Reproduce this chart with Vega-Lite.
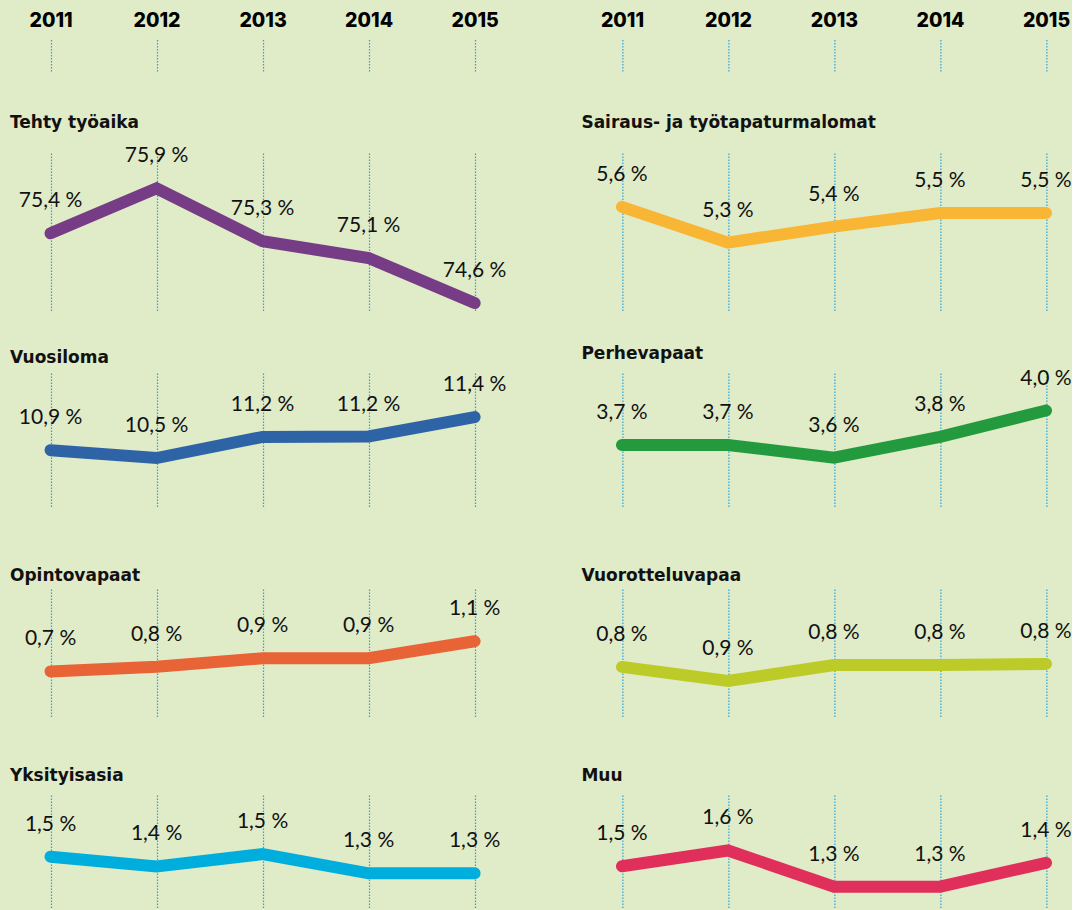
{
  "$schema": "https://vega.github.io/schema/vega-lite/v6.json",
  "background": "#e0ebc8",
  "padding": {"left": 10, "top": 10, "right": 0, "bottom": 0},
  "autosize": {"type": "pad"},
  "config": {
    "view": {"stroke": null},
    "font": "Lato",
    "axis": {"tickColor": "#29a3dd", "tickDash": [1.5, 1.5], "tickWidth": 1.2, "tickOpacity": 1, "domain": false, "grid": false, "title": null},
    "title": {"anchor": "start", "font": "DejaVu Sans", "fontSize": 17, "fontWeight": "bold", "color": "#111111", "frame": "group"},
    "text": {"font": "Lato", "fontSize": 21, "color": "#111111"}
  },
  "data": {
    "values": [
      {"cat": "Tehty työaika", "year": "2011", "value": 75.39, "label": "75,4 %"},
      {"cat": "Tehty työaika", "year": "2012", "value": 75.90, "label": "75,9 %"},
      {"cat": "Tehty työaika", "year": "2013", "value": 75.30, "label": "75,3 %"},
      {"cat": "Tehty työaika", "year": "2014", "value": 75.11, "label": "75,1 %"},
      {"cat": "Tehty työaika", "year": "2015", "value": 74.60, "label": "74,6 %"},
      {"cat": "Sairaus- ja työtapaturmalomat", "year": "2011", "value": 5.57, "label": "5,6 %"},
      {"cat": "Sairaus- ja työtapaturmalomat", "year": "2012", "value": 5.28, "label": "5,3 %"},
      {"cat": "Sairaus- ja työtapaturmalomat", "year": "2013", "value": 5.41, "label": "5,4 %"},
      {"cat": "Sairaus- ja työtapaturmalomat", "year": "2014", "value": 5.52, "label": "5,5 %"},
      {"cat": "Sairaus- ja työtapaturmalomat", "year": "2015", "value": 5.52, "label": "5,5 %"},
      {"cat": "Vuosiloma", "year": "2011", "value": 10.79, "label": "10,9 %"},
      {"cat": "Vuosiloma", "year": "2012", "value": 10.60, "label": "10,5 %"},
      {"cat": "Vuosiloma", "year": "2013", "value": 11.11, "label": "11,2 %"},
      {"cat": "Vuosiloma", "year": "2014", "value": 11.12, "label": "11,2 %"},
      {"cat": "Vuosiloma", "year": "2015", "value": 11.59, "label": "11,4 %"},
      {"cat": "Perhevapaat", "year": "2011", "value": 3.71, "label": "3,7 %"},
      {"cat": "Perhevapaat", "year": "2012", "value": 3.71, "label": "3,7 %"},
      {"cat": "Perhevapaat", "year": "2013", "value": 3.60, "label": "3,6 %"},
      {"cat": "Perhevapaat", "year": "2014", "value": 3.78, "label": "3,8 %"},
      {"cat": "Perhevapaat", "year": "2015", "value": 4.01, "label": "4,0 %"},
      {"cat": "Opintovapaat", "year": "2011", "value": 0.72, "label": "0,7 %"},
      {"cat": "Opintovapaat", "year": "2012", "value": 0.78, "label": "0,8 %"},
      {"cat": "Opintovapaat", "year": "2013", "value": 0.89, "label": "0,9 %"},
      {"cat": "Opintovapaat", "year": "2014", "value": 0.89, "label": "0,9 %"},
      {"cat": "Opintovapaat", "year": "2015", "value": 1.11, "label": "1,1 %"},
      {"cat": "Vuorotteluvapaa", "year": "2011", "value": 0.825, "label": "0,8 %"},
      {"cat": "Vuorotteluvapaa", "year": "2012", "value": 0.778, "label": "0,9 %"},
      {"cat": "Vuorotteluvapaa", "year": "2013", "value": 0.831, "label": "0,8 %"},
      {"cat": "Vuorotteluvapaa", "year": "2014", "value": 0.831, "label": "0,8 %"},
      {"cat": "Vuorotteluvapaa", "year": "2015", "value": 0.835, "label": "0,8 %"},
      {"cat": "Yksityisasia", "year": "2011", "value": 1.49, "label": "1,5 %"},
      {"cat": "Yksityisasia", "year": "2012", "value": 1.38, "label": "1,4 %"},
      {"cat": "Yksityisasia", "year": "2013", "value": 1.52, "label": "1,5 %"},
      {"cat": "Yksityisasia", "year": "2014", "value": 1.30, "label": "1,3 %"},
      {"cat": "Yksityisasia", "year": "2015", "value": 1.30, "label": "1,3 %"},
      {"cat": "Muu", "year": "2011", "value": 1.46, "label": "1,5 %"},
      {"cat": "Muu", "year": "2012", "value": 1.60, "label": "1,6 %"},
      {"cat": "Muu", "year": "2013", "value": 1.28, "label": "1,3 %"},
      {"cat": "Muu", "year": "2014", "value": 1.28, "label": "1,3 %"},
      {"cat": "Muu", "year": "2015", "value": 1.49, "label": "1,4 %"}
    ]
  },
  "bounds": "flush",
  "columns": 2,
  "spacing": {"row": 0, "column": 81.4},
  "concat": [
    {
      "width": 490, "height": 82,
      "transform": [{"filter": {"field": "cat", "equal": "Tehty työaika"}}],
      "mark": {"type": "point", "opacity": 0},
      "encoding": {
        "x": {"field": "year", "type": "ordinal", "scale": {"type": "point", "padding": 0.311, "align": 0.615},
              "axis": {"orient": "top", "labelAngle": 0, "labelFont": "Inter", "labelFontSize": 19.5, "labelFontWeight": 800, "labelColor": "#000000", "ticks": true, "tickSize": 33, "labelPadding": 8}}
      }
    },
    {
      "width": 490, "height": 82,
      "transform": [{"filter": {"field": "cat", "equal": "Muu"}}],
      "mark": {"type": "point", "opacity": 0},
      "encoding": {
        "x": {"field": "year", "type": "ordinal", "scale": {"type": "point", "padding": 0.311, "align": 0.615},
              "axis": {"orient": "top", "labelAngle": 0, "labelFont": "Inter", "labelFontSize": 19.5, "labelFontWeight": 800, "labelColor": "#000000", "ticks": true, "tickSize": 33, "labelPadding": 8}}
      }
    },
    {
      "width": 490, "height": 220,
      "title": {"text": "Tehty työaika", "offset": 13},
      "transform": [{"filter": {"field": "cat", "equal": "Tehty työaika"}}],
      "encoding": {
        "x": {"field": "year", "type": "ordinal", "scale": {"type": "point", "padding": 0.311, "align": 0.615}, "axis": {"orient": "top", "labels": false, "ticks": true, "tickSize": -158}},
        "y": {"field": "value", "type": "quantitative", "scale": {"domain": [73.808, 76.30], "zero": false, "nice": false}, "axis": null}
      },
      "layer": [
        {"mark": {"type": "line", "color": "#763c86", "strokeWidth": 12, "strokeCap": "round"}},
        {"mark": {"type": "text", "dy": -32}, "encoding": {"text": {"field": "label"}}}
      ]
    },
    {
      "width": 490, "height": 220,
      "title": {"text": "Sairaus- ja työtapaturmalomat", "offset": 20},
      "transform": [{"filter": {"field": "cat", "equal": "Sairaus- ja työtapaturmalomat"}}],
      "encoding": {
        "x": {"field": "year", "type": "ordinal", "scale": {"type": "point", "padding": 0.311, "align": 0.615}, "axis": {"orient": "top", "labels": false, "ticks": true, "tickSize": -158}},
        "y": {"field": "value", "type": "quantitative", "scale": {"domain": [4.2237, 6.006], "zero": false, "nice": false}, "axis": null}
      },
      "layer": [
        {"mark": {"type": "line", "color": "#f9b534", "strokeWidth": 12, "strokeCap": "round"}},
        {"mark": {"type": "text", "dy": -32}, "encoding": {"text": {"field": "label"}}}
      ]
    },
    {
      "width": 490, "height": 216,
      "title": {"text": "Vuosiloma", "offset": 5},
      "transform": [{"filter": {"field": "cat", "equal": "Vuosiloma"}}],
      "encoding": {
        "x": {"field": "year", "type": "ordinal", "scale": {"type": "point", "padding": 0.311, "align": 0.615}, "axis": {"orient": "top", "labels": false, "ticks": true, "tickSize": -135}},
        "y": {"field": "value", "type": "quantitative", "scale": {"domain": [7.4364, 12.654], "zero": false, "nice": false}, "axis": null}
      },
      "layer": [
        {"mark": {"type": "line", "color": "#2e64a6", "strokeWidth": 12, "strokeCap": "round"}},
        {"mark": {"type": "text", "dy": -32}, "encoding": {"text": {"field": "label"}}}
      ]
    },
    {
      "width": 490, "height": 216,
      "title": {"text": "Perhevapaat", "offset": 5},
      "transform": [{"filter": {"field": "cat", "equal": "Perhevapaat"}}],
      "encoding": {
        "x": {"field": "year", "type": "ordinal", "scale": {"type": "point", "padding": 0.311, "align": 0.615}, "axis": {"orient": "top", "labels": false, "ticks": true, "tickSize": -135}},
        "y": {"field": "value", "type": "quantitative", "scale": {"domain": [2.4554, 4.337], "zero": false, "nice": false}, "axis": null}
      },
      "layer": [
        {"mark": {"type": "line", "color": "#249a3e", "strokeWidth": 12, "strokeCap": "round"}},
        {"mark": {"type": "text", "dy": -32}, "encoding": {"text": {"field": "label"}}}
      ]
    },
    {
      "width": 490, "height": 206,
      "title": {"text": "Opintovapaat", "offset": 3},
      "transform": [{"filter": {"field": "cat", "equal": "Opintovapaat"}}],
      "encoding": {
        "x": {"field": "year", "type": "ordinal", "scale": {"type": "point", "padding": 0.311, "align": 0.615}, "axis": {"orient": "top", "labels": false, "ticks": true, "tickSize": -129}},
        "y": {"field": "value", "type": "quantitative", "scale": {"domain": [-0.8792, 1.786], "zero": false, "nice": false}, "axis": null}
      },
      "layer": [
        {"mark": {"type": "line", "color": "#e86335", "strokeWidth": 12, "strokeCap": "round"}},
        {"mark": {"type": "text", "dy": -32}, "encoding": {"text": {"field": "label"}}}
      ]
    },
    {
      "width": 490, "height": 206,
      "title": {"text": "Vuorotteluvapaa", "offset": 3},
      "transform": [{"filter": {"field": "cat", "equal": "Vuorotteluvapaa"}}],
      "encoding": {
        "x": {"field": "year", "type": "ordinal", "scale": {"type": "point", "padding": 0.311, "align": 0.615}, "axis": {"orient": "top", "labels": false, "ticks": true, "tickSize": -129}},
        "y": {"field": "value", "type": "quantitative", "scale": {"domain": [0.39803, 1.0847], "zero": false, "nice": false}, "axis": null}
      },
      "layer": [
        {"mark": {"type": "line", "color": "#bdcb28", "strokeWidth": 12, "strokeCap": "round"}},
        {"mark": {"type": "text", "dy": -32}, "encoding": {"text": {"field": "label"}}}
      ]
    },
    {
      "width": 490, "height": 114,
      "title": {"text": "Yksityisasia", "offset": 9},
      "transform": [{"filter": {"field": "cat", "equal": "Yksityisasia"}}],
      "encoding": {
        "x": {"field": "year", "type": "ordinal", "scale": {"type": "point", "padding": 0.311, "align": 0.615}, "axis": {"orient": "top", "labels": false, "ticks": true, "tickSize": -114}},
        "y": {"field": "value", "type": "quantitative", "scale": {"domain": [0.893, 2.195], "zero": false, "nice": false}, "axis": null}
      },
      "layer": [
        {"mark": {"type": "line", "color": "#00aedd", "strokeWidth": 12, "strokeCap": "round"}},
        {"mark": {"type": "text", "dy": -32}, "encoding": {"text": {"field": "label"}}}
      ]
    },
    {
      "width": 490, "height": 114,
      "title": {"text": "Muu", "offset": 9},
      "transform": [{"filter": {"field": "cat", "equal": "Muu"}}],
      "encoding": {
        "x": {"field": "year", "type": "ordinal", "scale": {"type": "point", "padding": 0.311, "align": 0.615}, "axis": {"orient": "top", "labels": false, "ticks": true, "tickSize": -114}},
        "y": {"field": "value", "type": "quantitative", "scale": {"domain": [1.082, 2.091], "zero": false, "nice": false}, "axis": null}
      },
      "layer": [
        {"mark": {"type": "line", "color": "#e02f5b", "strokeWidth": 12, "strokeCap": "round"}},
        {"mark": {"type": "text", "dy": -32}, "encoding": {"text": {"field": "label"}}}
      ]
    }
  ]
}
